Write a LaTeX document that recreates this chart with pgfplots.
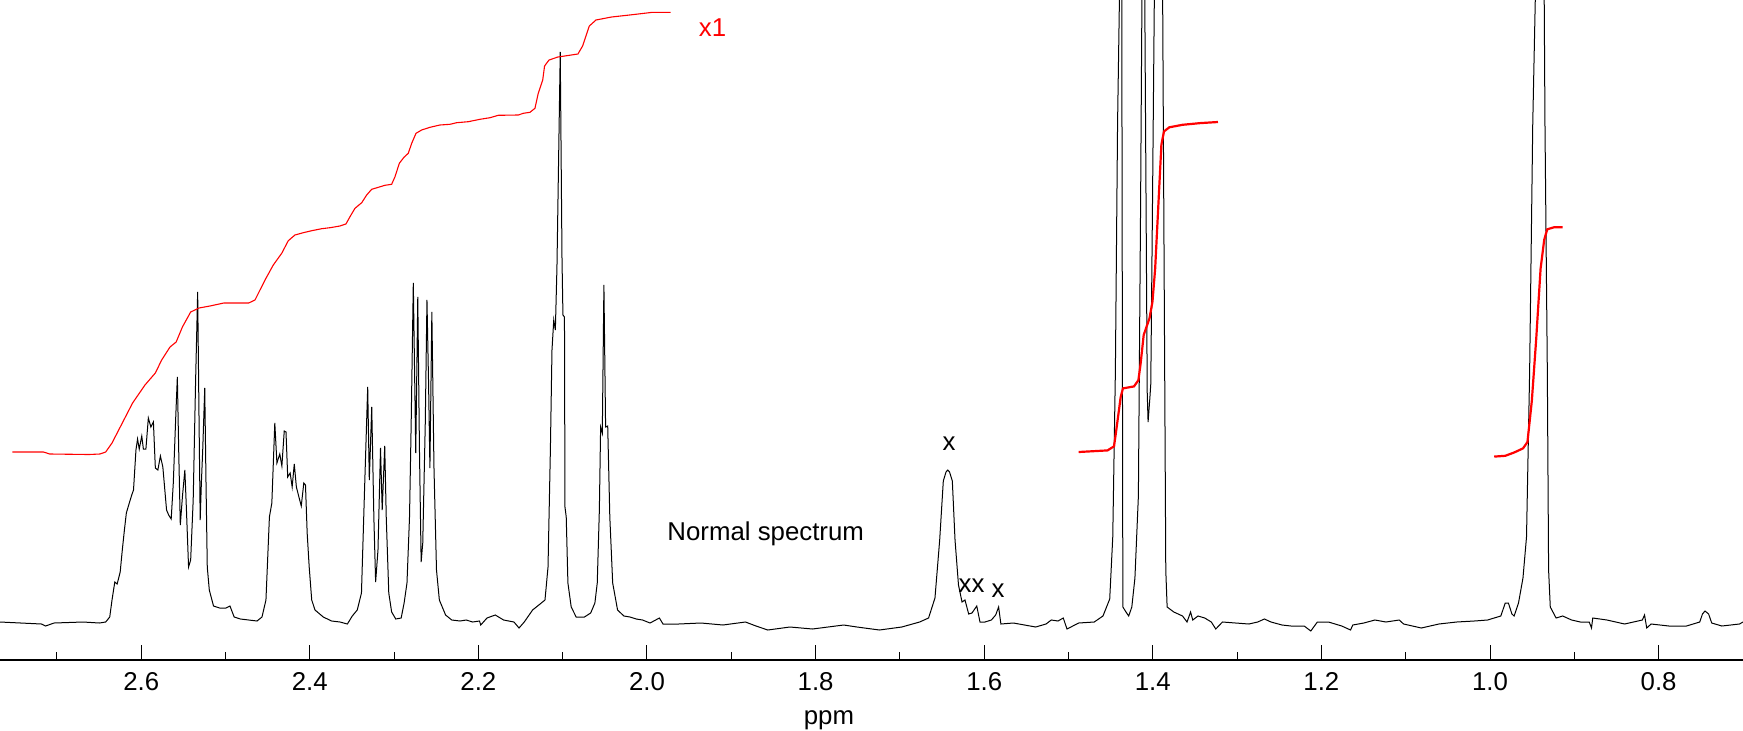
\documentclass[border=0pt]{standalone}
\usepackage{fontspec}
\setmainfont{Liberation Sans}
\usepackage{pgfplots}
\pgfplotsset{compat=1.18}
\newcommand{\lf}{\fontsize{12.9}{15}\selectfont}
\begin{document}
\begin{tikzpicture}
\begin{axis}[
  scale only axis,
  width=871.5pt, height=330pt,
  x dir=reverse,
  xmin=0.6999, xmax=2.7675,
  ymin=0, ymax=660,
  axis x line=bottom, axis y line=none,
  axis line style={-, line width=1pt},
  xtick={0.8,1.0,1.2,1.4,1.6,1.8,2.0,2.2,2.4,2.6},
  minor xtick={0.9,1.1,1.3,1.5,1.7,1.9,2.1,2.3,2.5,2.7},
  tick align=inside,
  major tick length=7.5pt, minor tick length=4pt,
  tick style={black, line width=0.5pt},
  xticklabel style={font=\lf, anchor=base, yshift=-15.35pt},
  xticklabel={\pgfmathprintnumber[fixed,fixed zerofill,precision=1,assume math mode=true]{\tick}},
  xlabel={ppm},
  xlabel style={font=\lf, at={(axis description cs:0.4756,0)}, anchor=base, yshift=-32pt},
  clip=true,
]
\addplot[black, line width=0.5pt] coordinates {
(2.7675,38) (2.7429,37) (2.7183,36) (2.7134,34) (2.7034,37) (2.6690,38) (2.6495,37) (2.6421,38) (2.6373,43) (2.6346,60) (2.6313,78) (2.6285,76) (2.6249,88) (2.6224,110) (2.6199,130) (2.6176,147) (2.6141,157) (2.6112,165) (2.6091,170) (2.6062,210) (2.6043,221) (2.6023,211) (2.5993,224) (2.5974,211) (2.5944,211) (2.5915,242) (2.5885,233) (2.5855,238) (2.5832,192) (2.5802,190) (2.5772,204) (2.5743,193) (2.5699,150) (2.5674,145) (2.5644,141) (2.5619,177) (2.5590,243) (2.5571,283) (2.5555,210) (2.5536,135) (2.5511,163) (2.5482,190) (2.5463,150) (2.5438,93) (2.5413,100) (2.5383,160) (2.5355,277) (2.5330,368) (2.5314,243) (2.5300,140) (2.5286,177) (2.5270,210) (2.5246,272) (2.5231,177) (2.5216,93) (2.5192,70) (2.5142,54) (2.5069,52) (2.4994,52) (2.4947,54) (2.4897,43) (2.4823,41) (2.4626,39) (2.4567,43) (2.4520,60) (2.4479,143) (2.4450,157) (2.4415,237) (2.4390,197) (2.4356,206) (2.4331,194) (2.4303,229) (2.4282,228) (2.4262,183) (2.4233,187) (2.4209,173) (2.4184,196) (2.4159,173) (2.4129,163) (2.4101,154) (2.4071,177) (2.4051,175) (2.4031,127) (2.4007,93) (2.3977,60) (2.3938,50) (2.3840,43) (2.3741,39) (2.3642,38) (2.3554,36) (2.3496,44) (2.3437,50) (2.3387,67) (2.3348,177) (2.3313,273) (2.3294,180) (2.3265,253) (2.3240,143) (2.3219,78) (2.3191,110) (2.3161,212) (2.3141,150) (2.3111,214) (2.3093,143) (2.3063,67) (2.3029,48) (2.2980,41) (2.2916,42) (2.2881,57) (2.2847,77) (2.2817,143) (2.2797,238) (2.2772,377) (2.2743,207) (2.2719,363) (2.2699,210) (2.2679,98) (2.2660,117) (2.2630,237) (2.2610,360) (2.2591,277) (2.2575,192) (2.2552,348) (2.2527,193) (2.2497,90) (2.2463,60) (2.2389,45) (2.2316,40) (2.2217,39) (2.2144,40) (2.2069,38) (2.1987,39) (2.1972,35) (2.1898,42) (2.1800,45) (2.1701,40) (2.1578,38) (2.1518,32) (2.1456,38) (2.1357,50) (2.1283,55) (2.1210,60) (2.1174,93) (2.1146,210) (2.1127,310) (2.1106,340) (2.1087,330) (2.1068,393) (2.1029,608) (2.1008,400) (2.0997,345) (2.0979,343) (2.0973,153) (2.0958,143) (2.0938,77) (2.0899,53) (2.0840,43) (2.0742,43) (2.0668,47) (2.0618,57) (2.0590,77) (2.0565,150) (2.0550,233) (2.0530,227) (2.0511,375) (2.0491,233) (2.0466,234) (2.0441,143) (2.0407,77) (2.0349,50) (2.0274,44) (2.0202,43) (2.0127,41) (2.0053,40) (1.9964,37) (1.9853,42) (1.9810,36) (1.9625,36) (1.9360,37) (1.9099,35) (1.8832,38) (1.8707,34) (1.8567,30) (1.8304,33) (1.8037,31) (1.7667,35) (1.7509,33) (1.7243,30) (1.6978,33) (1.6766,38) (1.6660,42) (1.6584,62) (1.6528,120) (1.6485,179) (1.6453,188) (1.6432,190) (1.6411,188) (1.6378,179) (1.6346,120) (1.6305,75) (1.6263,58) (1.6228,60) (1.6184,46) (1.6145,47) (1.6088,54) (1.6050,38) (1.5991,38) (1.5915,40) (1.5864,45) (1.5829,53) (1.5802,36) (1.5654,37) (1.5389,33) (1.5267,36) (1.5204,40) (1.5125,39) (1.5062,42) (1.5018,31) (1.4879,37) (1.4695,38) (1.4591,44) (1.4511,61) (1.4475,123) (1.4444,288) (1.4418,536) (1.4396,660) (1.4381,720) (1.4368,660) (1.4363,412) (1.4355,53) (1.4318,48) (1.4286,44) (1.4249,53) (1.4212,82) (1.4171,164) (1.4145,453) (1.4129,660) (1.4110,720) (1.4095,660) (1.4066,267) (1.4056,238) (1.4034,263) (1.4024,276) (1.4004,453) (1.3982,660) (1.3932,720) (1.3883,660) (1.3867,412) (1.3846,90) (1.3830,53) (1.3751,48) (1.3647,44) (1.3594,38) (1.3552,48) (1.3526,40) (1.3464,44) (1.3384,42) (1.3306,38) (1.3253,31) (1.3174,38) (1.3018,37) (1.2860,36) (1.2756,38) (1.2676,41) (1.2598,38) (1.2467,35) (1.2362,34) (1.2204,34) (1.2126,29) (1.2048,38) (1.1916,38) (1.1759,34) (1.1654,30) (1.1628,35) (1.1497,37) (1.1365,40) (1.1235,38) (1.1077,40) (1.1025,36) (1.0815,32) (1.0606,36) (1.0396,38) (1.0186,39) (1.0029,40) (0.9872,44) (0.9819,57) (0.9782,57) (0.9740,46) (0.9714,44) (0.9662,57) (0.9609,82) (0.9567,123) (0.9530,288) (0.9493,536) (0.9463,660) (0.9409,720) (0.9357,660) (0.9348,536) (0.9320,288) (0.9305,90) (0.9285,53) (0.9216,42) (0.9138,44) (0.9032,40) (0.8928,38) (0.8823,38) (0.8796,32) (0.8781,42) (0.8613,40) (0.8403,36) (0.8193,40) (0.8167,45) (0.8141,32) (0.8089,36) (0.7879,34) (0.7669,34) (0.7512,38) (0.7480,46) (0.7450,49) (0.7407,46) (0.7370,37) (0.7250,34) (0.7040,36) (0.6999,38)
};
\addplot[red, line width=0.55pt] coordinates {
(2.7528,208) (2.7159,208) (2.7085,206) (2.6619,205.5) (2.6489,206) (2.6421,208) (2.6346,217) (2.6224,237) (2.6102,257) (2.5955,275) (2.5832,287) (2.5757,300) (2.5658,313) (2.5585,318) (2.5511,333) (2.5413,348) (2.5314,352) (2.5184,354) (2.5020,357) (2.4725,357) (2.4650,360) (2.4531,380) (2.4433,395) (2.4333,406.7) (2.4255,419.3) (2.4176,425) (2.4077,427.3) (2.3977,429.3) (2.3859,431.3) (2.3760,432.3) (2.3642,434) (2.3571,436) (2.3523,443.3) (2.3464,451.7) (2.3384,457.3) (2.3325,465) (2.3266,470.7) (2.3187,472.7) (2.3108,474.7) (2.3029,475.7) (2.2989,483.3) (2.2938,496.7) (2.2883,502.7) (2.2832,506.7) (2.2791,516.7) (2.2740,526.7) (2.2673,530) (2.2574,532.7) (2.2456,535) (2.2337,535.7) (2.2257,537.3) (2.2120,538.3) (2.1981,540.7) (2.1862,542.3) (2.1764,544.7) (2.1527,545) (2.1467,546.7) (2.1388,547.7) (2.1329,551.7) (2.1290,566.7) (2.1237,580) (2.1215,594) (2.1162,600) (2.1056,603) (2.0819,606) (2.0764,614) (2.0684,634) (2.0605,640) (2.0420,643) (2.0154,645.5) (1.9943,647.6) (1.9721,647.6)
};
\addplot[red, line width=1.1pt] coordinates {
(1.4879,208) (1.4537,209.6) (1.4460,213.7) (1.4433,230) (1.4381,263) (1.4354,271.6) (1.4223,273.6) (1.4171,279.8) (1.4145,296) (1.4108,325) (1.4039,341.8) (1.4004,358.3) (1.3972,391.4) (1.3935,453.4) (1.3898,515.4) (1.3867,528.6) (1.3804,532.7) (1.3647,535.2) (1.3437,536.9) (1.3227,538)
};
\addplot[red, line width=1.1pt] coordinates {
(0.9950,203.4) (0.9819,204.2) (0.9714,207.5) (0.9609,211.6) (0.9556,217.9) (0.9504,259) (0.9452,321) (0.9400,391.4) (0.9357,420.3) (0.9321,430.7) (0.9242,432.7) (0.9138,432.7)
};
\node[font=\lf, text=red, anchor=base] at (axis cs:1.9223,624) {x1};
\node[font=\lf, anchor=base] at (axis cs:1.8592,120) {Normal spectrum};
\node[font=\lf, anchor=base] at (axis cs:1.6418,209.5) {x};
\node[font=\lf, anchor=base] at (axis cs:1.6228,67.5) {x};
\node[font=\lf, anchor=base] at (axis cs:1.6074,67.5) {x};
\node[font=\lf, anchor=base] at (axis cs:1.5836,62.5) {x};
\end{axis}
\pgfresetboundingbox
\path[use as bounding box] (0,-35pt) rectangle (871.5pt,330pt);
\end{tikzpicture}
\end{document}
